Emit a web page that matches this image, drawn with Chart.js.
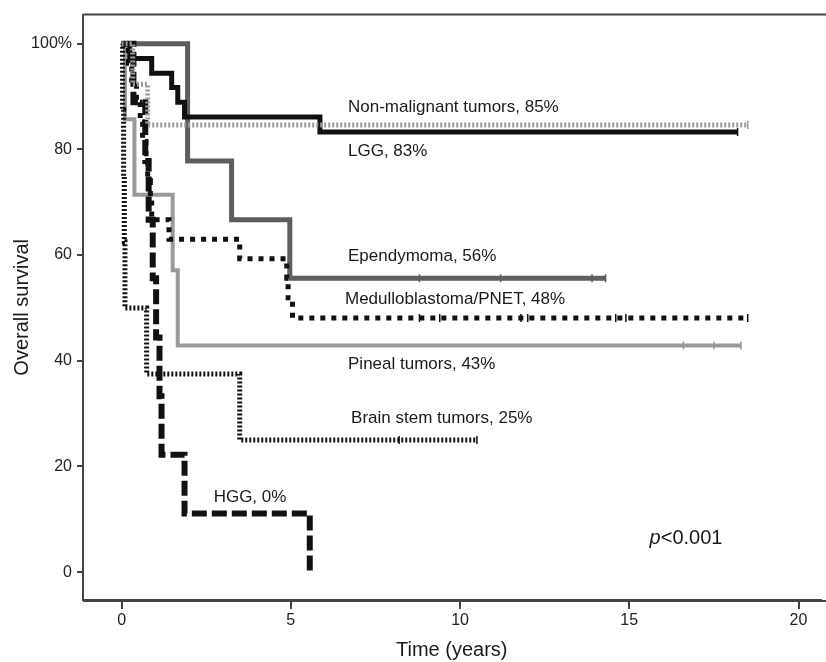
<!DOCTYPE html>
<html>
<head>
<meta charset="utf-8">
<script src="https://cdn.jsdelivr.net/npm/chart.js@4"></script>
<style>
  body { margin: 0; background: #fff; }
  #wrap { width: 826px; height: 662px; }
</style>
</head>
<body>
<div id="wrap"><canvas id="km"></canvas></div>
<script>
// Kaplan-Meier curves, survival in %, time in years
const nonMalTime = [0, 0.33, 0.77, 18.5];
const nonMalSurv = [100, 92.3, 84.6, 84.6];

const lggTime = [0, 0.24, 0.89, 1.48, 1.66, 1.86, 5.86, 18.2];
const lggSurv = [100, 97.2, 94.4, 91.7, 88.9, 86.1, 83.3, 83.3];

const ependTime = [0, 1.95, 3.25, 4.97, 14.3];
const ependSurv = [100, 77.8, 66.7, 55.6, 55.6];

const meduTime = [0, 0.2, 0.3, 0.44, 0.55, 0.62, 0.72, 0.77, 0.85, 0.89, 1.4, 3.49, 4.88, 4.92, 5.05, 18.5];
const meduSurv = [100, 96.3, 92.6, 88.9, 85.2, 81.5, 77.8, 74.1, 70.4, 66.7, 63.0, 59.3, 55.6, 51.9, 48.1, 48.1];

const pinealTime = [0, 0.1, 0.38, 1.51, 1.66, 18.3];
const pinealSurv = [100, 85.7, 71.4, 57.1, 42.9, 42.9];

const bstemTime = [0, 0.03, 0.06, 0.08, 0.1, 0.74, 3.49, 10.5];
const bstemSurv = [100, 87.5, 75, 62.5, 50, 37.5, 25, 25];

const hggTime = [0, 0.35, 0.7, 0.8, 0.92, 1.02, 1.12, 1.18, 1.86, 5.56];
const hggSurv = [100, 88.9, 77.8, 66.7, 55.6, 44.4, 33.3, 22.2, 11.1, 0];

// censored observations (tick marks)
const nonMalCens = [18.5];
const lggCens = [18.2];
const ependCens = [8.8, 11.2, 13.9, 14.3];
const meduCens = [8.8, 9.4, 11.8, 12.0, 14.6, 14.9, 18.5];
const pinealCens = [16.6, 17.5, 18.3];
const bstemCens = [8.2, 10.5];

const xTicks = [0, 5, 10, 15, 20];
const yTicks = [0, 20, 40, 60, 80, 100];

// curve labels: text, x (years), y (%)
const labelText = ["Non-malignant tumors, 85%", "LGG, 83%", "Ependymoma, 56%", "Medulloblastoma/PNET, 48%",
  "Pineal tumors, 43%", "Brain stem tumors, 25%", "HGG, 0%"];
const labelX = [6.69, 6.69, 6.69, 6.6, 6.69, 6.78, 2.72];
const labelY = [87.9, 79.6, 59.8, 51.7, 39.4, 29.1, 14.2];

const FONT = "'Liberation Sans', Arial, sans-serif";

function pts(t, s) {
  return t.map((v, i) => ({ x: v, y: s[i] }));
}

function survAt(t, s, time) {
  let v = s[0];
  t.forEach((tt, i) => { if (tt <= time) v = s[i]; });
  return v;
}

function curve(label, t, s, color, dash, width, order) {
  return {
    label, data: pts(t, s), stepped: "before",
    borderColor: color, borderWidth: width, borderDash: dash,
    borderCapStyle: "butt", borderJoinStyle: "miter",
    pointRadius: 0, fill: false, order
  };
}

function cens(t, s, c, color) {
  return {
    type: "scatter",
    data: c.map(v => ({ x: v, y: survAt(t, s, v) })),
    pointStyle: "line", rotation: 90, pointRadius: 4,
    borderColor: color, borderWidth: 1.5, order: 0
  };
}

const textPlugin = {
  id: "kmText",
  afterDatasetsDraw(chart) {
    const { ctx, scales: { x, y }, chartArea } = chart;
    ctx.save();
    // frame lines run on to the right edge
    ctx.strokeStyle = "#444";
    ctx.lineWidth = 2;
    ctx.beginPath();
    ctx.moveTo(chartArea.left, chartArea.top);
    ctx.lineTo(chart.width, chartArea.top);
    ctx.stroke();
    ctx.beginPath();
    ctx.moveTo(chartArea.left, x.top + 1);
    ctx.lineTo(chart.width, x.top + 1);
    ctx.stroke();

    ctx.fillStyle = "#1a1a1a";
    ctx.textBaseline = "middle";
    ctx.textAlign = "left";
    ctx.font = "17px " + FONT;
    labelText.forEach((txt, i) => {
      ctx.fillText(txt, x.getPixelForValue(labelX[i]), y.getPixelForValue(labelY[i]));
    });

    const px = x.getPixelForValue(15.6), py = y.getPixelForValue(6.3);
    ctx.font = "italic 20px " + FONT;
    ctx.fillText("p", px, py);
    const w = ctx.measureText("p").width;
    ctx.font = "20px " + FONT;
    ctx.fillText("<0.001", px + w, py);
    ctx.restore();
  }
};

new Chart(document.getElementById("km"), {
  type: "line",
  data: {
    datasets: [
      curve("Non-malignant tumors", nonMalTime, nonMalSurv, "#9a9a9a", [2, 2], 5, 1),
      curve("LGG", lggTime, lggSurv, "#111", [], 5, 3),
      curve("Ependymoma", ependTime, ependSurv, "#5e5e5e", [], 5, 5),
      curve("Medulloblastoma/PNET", meduTime, meduSurv, "#111", [5, 6], 5, 2),
      curve("Pineal tumors", pinealTime, pinealSurv, "#999", [], 4, 6),
      curve("Brain stem tumors", bstemTime, bstemSurv, "#111", [2, 2], 5, 2),
      curve("HGG", hggTime, hggSurv, "#111", [15, 5], 6, 2),
      cens(nonMalTime, nonMalSurv, nonMalCens, "#9a9a9a"),
      cens(lggTime, lggSurv, lggCens, "#111"),
      cens(ependTime, ependSurv, ependCens, "#5e5e5e"),
      cens(meduTime, meduSurv, meduCens, "#111"),
      cens(pinealTime, pinealSurv, pinealCens, "#999"),
      cens(bstemTime, bstemSurv, bstemCens, "#111")
    ]
  },
  options: {
    responsive: true,
    maintainAspectRatio: false,
    animation: false,
    layout: { padding: { top: 13, right: 0, left: 0, bottom: 0 } },
    plugins: { legend: { display: false }, tooltip: { enabled: false } },
    scales: {
      x: {
        type: "linear", min: -1.14, max: 20.65,
        afterBuildTicks: s => { s.ticks = xTicks.map(v => ({ value: v })); },
        afterFit: s => { s.height = 62; },
        grid: { drawOnChartArea: false, tickLength: 9, color: "#444", lineWidth: 2 },
        border: { color: "#444", width: 2 },
        ticks: { color: "#222", font: { family: FONT, size: 16 }, padding: 2, maxRotation: 0 },
        title: { display: true, text: "Time (years)", color: "#1a1a1a", font: { family: FONT, size: 20 }, padding: { top: 0, bottom: 0 } }
      },
      y: {
        type: "linear", min: -5.28, max: 105.5,
        afterBuildTicks: s => { s.ticks = yTicks.map(v => ({ value: v })); },
        afterFit: s => { s.width = 83; },
        grid: { drawOnChartArea: false, tickLength: 6, color: "#444", lineWidth: 2 },
        border: { color: "#444", width: 2 },
        ticks: { color: "#222", font: { family: FONT, size: 16 }, padding: 5, callback: v => v === 100 ? "100%" : v },
        title: { display: true, text: "Overall survival", color: "#1a1a1a", font: { family: FONT, size: 20 }, padding: { top: 10, bottom: 0 } }
      }
    }
  },
  plugins: [textPlugin]
});
</script>
</body>
</html>
